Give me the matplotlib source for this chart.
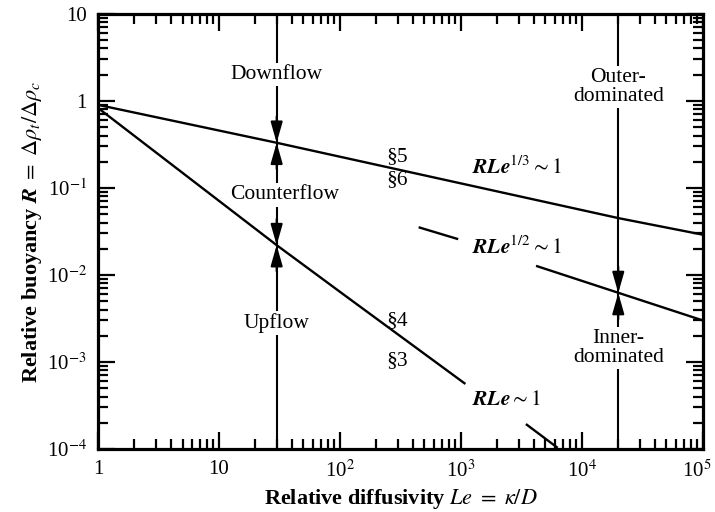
import numpy as np
import matplotlib
matplotlib.use("Agg")
import matplotlib.pyplot as plt
import matplotlib.transforms as mtransforms
from matplotlib.ticker import FixedLocator, FixedFormatter, LogLocator, NullFormatter

plt.rcParams['font.family'] = ['Liberation Serif', 'DejaVu Serif']
plt.rcParams['mathtext.fontset'] = 'stix'

# curve: R Le^(1/3) ~ 1
le_outer = [1, 30, 2e4, 1e5]
r_outer = [0.9, 0.33, 0.045, 0.029]

# R Le ~ 1 (two pieces)
le_rle_a = [1, 30, 114, 1070]
r_rle_a = [0.83, 0.022, 0.0056, 5.7e-4]
le_rle_b = [3510, 6200]
r_rle_b = [1.9e-4, 1.05e-4]

# R Le^(1/2) ~ 1 (two pieces)
le_half_a = [457, 930]
r_half_a = [0.035, 0.026]
le_half_b = [4270, 1e5]
r_half_b = [0.0126, 0.003]

# regime boundaries
le_counter = 30
r_counter = [0.33, 0.022]
le_inner = 2e4
r_inner = 0.0062

x_ticks = [1, 10, 1e2, 1e3, 1e4, 1e5]
x_labels = ['1', '10', r'10$^2$', r'10$^3$', r'10$^4$', r'10$^5$']
y_ticks = [1e-4, 1e-3, 1e-2, 1e-1, 1, 10]
y_labels = [r'10$^{-4}$', r'10$^{-3}$', r'10$^{-2}$', r'10$^{-1}$', '1', '10']

fig = plt.figure(figsize=(7.15, 5.12), dpi=100)
ax = fig.add_axes([0.137, 0.123, 0.846, 0.850])
ax.set_xscale('log')
ax.set_yscale('log')
ax.set_xlim(1, 1e5)
ax.set_ylim(1e-4, 10)

# curves sit above the white boxes of the labels
lw = 1.7
ax.plot(le_outer, r_outer, color='k', lw=lw, zorder=4)
ax.plot(le_rle_a, r_rle_a, color='k', lw=lw, zorder=4)
ax.plot(le_rle_b, r_rle_b, color='k', lw=lw, zorder=4)
ax.plot(le_half_a, r_half_a, color='k', lw=lw, zorder=4)
ax.plot(le_half_b, r_half_b, color='k', lw=lw, zorder=4)

# vertical boundary lines
ax.plot([le_counter, le_counter], [1e-4, 10], color='k', lw=1.5)
ax.plot([le_inner, le_inner], [1e-4, 10], color='k', lw=1.5)

arrow = dict(arrowstyle='-|>,head_length=0.7,head_width=0.2', color='k', lw=1.5,
             mutation_scale=18, shrinkA=0, shrinkB=0)
for r in r_counter:
    ax.annotate('', xy=(le_counter, r), xytext=(le_counter, r * 2.0), arrowprops=arrow)
    ax.annotate('', xy=(le_counter, r), xytext=(le_counter, r / 2.0), arrowprops=arrow)
ax.annotate('', xy=(le_inner, r_inner), xytext=(le_inner, r_inner * 2.0), arrowprops=arrow)
ax.annotate('', xy=(le_inner, r_inner), xytext=(le_inner, r_inner / 2.0), arrowprops=arrow)

box = dict(facecolor='white', edgecolor='none', pad=1.5)
fs = 15.5
ax.text(30, 2.0, 'Downflow', ha='center', va='center', fontsize=fs, bbox=box)
ax.text(35, 0.083, 'Counterflow', ha='center', va='center', fontsize=fs, bbox=box)
ax.text(30, 0.0028, 'Upflow', ha='center', va='center', fontsize=fs, bbox=box)
ax.text(2e4, 1.45, 'Outer-\ndominated', ha='center', va='center', fontsize=fs,
        linespacing=1.0, bbox=box)
ax.text(2e4, 0.00145, 'Inner-\ndominated', ha='center', va='center', fontsize=fs,
        linespacing=1.0, bbox=box)

ax.text(297, 0.227, '§5', ha='center', va='center', fontsize=fs)
ax.text(297, 0.124, '§6', ha='center', va='center', fontsize=fs)
ax.text(297, 0.003, '§4', ha='center', va='center', fontsize=fs)
ax.text(297, 0.00105, '§3', ha='center', va='center', fontsize=fs)
ax.text(2900, 0.17, r'$\boldsymbol{RLe}^{1/3} \sim 1$', ha='center', va='center', fontsize=fs)
ax.text(2900, 0.0204, r'$\boldsymbol{RLe}^{1/2} \sim 1$', ha='center', va='center', fontsize=fs)
ax.text(2400, 3.6e-4, r'$\boldsymbol{RLe} \sim 1$', ha='center', va='center', fontsize=fs)

ax.xaxis.set_major_locator(FixedLocator(x_ticks))
ax.xaxis.set_major_formatter(FixedFormatter(x_labels))
ax.yaxis.set_major_locator(FixedLocator(y_ticks))
ax.yaxis.set_major_formatter(FixedFormatter(y_labels))
ax.xaxis.set_minor_locator(LogLocator(base=10, subs=np.arange(2, 10), numticks=20))
ax.yaxis.set_minor_locator(LogLocator(base=10, subs=np.arange(2, 10), numticks=20))
ax.xaxis.set_minor_formatter(NullFormatter())
ax.yaxis.set_minor_formatter(NullFormatter())

ax.tick_params(which='both', direction='in', top=True, right=True, width=1.6,
               labelsize=15)
ax.tick_params(which='major', length=12, pad=8)
ax.tick_params(which='minor', length=7)
for s in ax.spines.values():
    s.set_linewidth(2.3)

# nudge the last x tick label so it stays inside the figure
last = ax.xaxis.get_major_ticks()[-1].label1
last.set_transform(last.get_transform() +
                   mtransforms.ScaledTranslation(-4 / 72, 0, fig.dpi_scale_trans))

ax.set_xlabel(r'Relative diffusivity $\mathit{Le}\ =\ \kappa/D$', fontsize=16,
              fontweight='bold', labelpad=4)
ax.set_ylabel(r'Relative buoyancy $\boldsymbol{R}\ =\ \Delta\rho_t/\Delta\rho_c$', fontsize=16,
              fontweight='bold', labelpad=2)

fig.savefig('out.png', dpi=100)
